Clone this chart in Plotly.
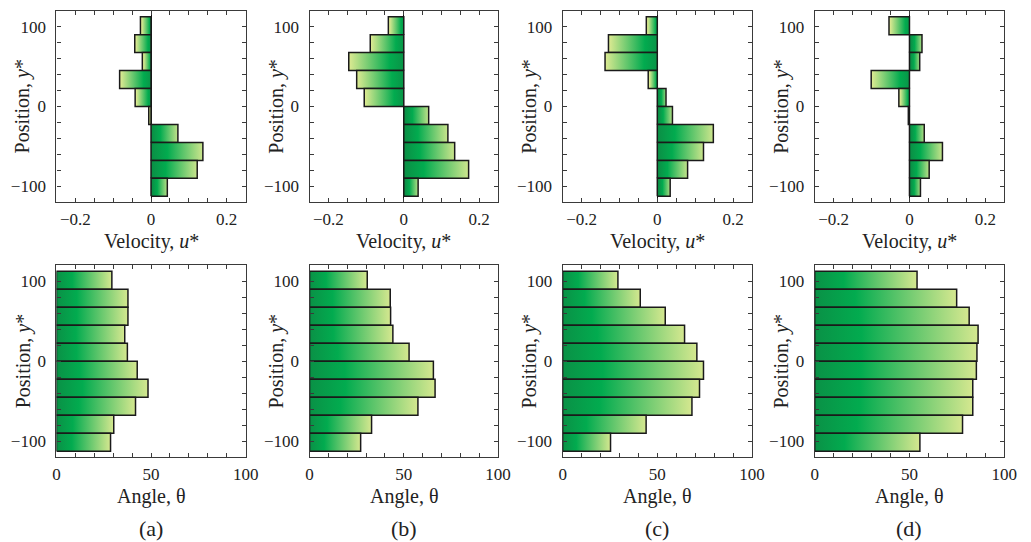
import plotly.graph_objects as go

# ---------------- data ----------------
positions = [101.25, 78.75, 56.25, 33.75, 11.25, -11.25, -33.75, -56.25, -78.75, -101.25]
bin_width = 22.5

velocity_a = [-0.028, -0.043, -0.023, -0.083, -0.042, -0.006, 0.071, 0.137, 0.122, 0.043]
velocity_b = [-0.041, -0.089, -0.146, -0.125, -0.105, 0.066, 0.117, 0.135, 0.172, 0.038]
velocity_c = [-0.029, -0.129, -0.138, -0.024, 0.023, 0.040, 0.148, 0.122, 0.080, 0.034]
velocity_d = [-0.054, 0.033, 0.027, -0.101, -0.028, -0.003, 0.039, 0.087, 0.052, 0.029]

angle_a = [29.3, 37.8, 37.8, 36.1, 37.5, 42.7, 48.4, 41.8, 30.3, 28.6]
angle_b = [30.6, 42.8, 43.0, 44.2, 52.8, 65.7, 66.6, 57.5, 32.9, 27.1]
angle_c = [29.2, 41.0, 54.2, 64.4, 70.9, 74.4, 72.3, 68.3, 44.1, 25.3]
angle_d = [54.0, 74.9, 81.5, 86.2, 85.6, 85.3, 83.4, 83.4, 78.0, 55.5]

panel_labels = ["(a)", "(b)", "(c)", "(d)"]

vel_tickvals = [-0.2, -0.15, -0.1, -0.05, 0, 0.05, 0.1, 0.15, 0.2]
vel_ticktext = ["\u22120.2", "", "", "", "0", "", "", "", "0.2"]
ang_tickvals = [0, 10, 20, 30, 40, 50, 60, 70, 80, 90, 100]
ang_ticktext = ["0", "", "", "", "", "50", "", "", "", "", "100"]
pos_tickvals = [-100, -80, -60, -40, -20, 0, 20, 40, 60, 80, 100]
pos_ticktext = ["\u2212100", "", "", "", "", "0", "", "", "", "", "100"]

# ---------------- layout geometry ----------------
W, H = 1031, 542
col_px = [(53.3, 245.7), (310.7, 502.3), (568.0, 760.5), (824.3, 1017.0)]
row_px = [(10.7, 202.3), (265.3, 457.3)]

FONT = "Liberation Serif"
TXT = "#222222"
FRAME = "#3a3a3a"
colorscale = [[0.0, "#0a9146"], [0.28, "#02ab4f"], [1.0, "#dae991"]]
colorscale_rev = [[1 - p, c] for p, c in reversed(colorscale)]

velocity = [velocity_a, velocity_b, velocity_c, velocity_d]
angle = [angle_a, angle_b, angle_c, angle_d]

fig = go.Figure()


def add_bars(values, axis_idx):
    xa = "x" if axis_idx == 1 else f"x{axis_idx}"
    ya = "y" if axis_idx == 1 else f"y{axis_idx}"
    for p, v in zip(positions, values):
        y0, y1 = p - bin_width / 2, p + bin_width / 2
        if v >= 0:
            grad = dict(type="horizontal", colorscale=colorscale, start=0, stop=v)
        else:
            grad = dict(type="horizontal", colorscale=colorscale_rev, start=v, stop=0)
        fig.add_trace(go.Scatter(
            x=[0, v, v, 0, 0], y=[y0, y0, y1, y1, y0],
            mode="lines", fill="toself", fillgradient=grad,
            line=dict(color="#1a1a1a", width=1.5),
            hoverinfo="skip", showlegend=False,
            xaxis=xa, yaxis=ya,
        ))


axes = {}
annotations = []
for c in range(4):
    for r in range(2):
        idx = r * 4 + c + 1
        x0, x1 = col_px[c]
        yt, yb = row_px[r]
        xdom = [x0 / W, x1 / W]
        ydom = [1 - yb / H, 1 - yt / H]
        vals = velocity[c] if r == 0 else angle[c]
        add_bars(vals, idx)
        common = dict(showline=True, mirror="allticks", linecolor=FRAME, linewidth=1.2,
                      ticks="inside", ticklen=4, tickwidth=1, tickcolor=FRAME,
                      showgrid=False, tickfont=dict(family=FONT, size=17, color=TXT),
                      tickmode="array", fixedrange=True)
        xname = "xaxis" if idx == 1 else f"xaxis{idx}"
        yname = "yaxis" if idx == 1 else f"yaxis{idx}"
        anchor_y = "y" if idx == 1 else f"y{idx}"
        anchor_x = "x" if idx == 1 else f"x{idx}"
        if r == 0:
            axes[xname] = dict(common, domain=xdom, anchor=anchor_y, range=[-0.25, 0.25],
                               tickvals=vel_tickvals, ticktext=vel_ticktext,
                               zeroline=True, zerolinecolor="#111111", zerolinewidth=1.2,
                               ticklabelstandoff=1)
        else:
            axes[xname] = dict(common, domain=xdom, anchor=anchor_y, range=[0, 100],
                               tickvals=ang_tickvals, ticktext=ang_ticktext,
                               zeroline=False, ticklabelstandoff=1)
        axes[yname] = dict(common, domain=ydom, anchor=anchor_x, range=[-120, 120],
                           tickvals=pos_tickvals, ticktext=pos_ticktext,
                           zeroline=False, ticklabelstandoff=6)
        # axis titles
        cx = (x0 + x1) / 2 / W
        xtitle = "Velocity, <i>u</i>*" if r == 0 else "Angle, \u03b8"
        annotations.append(dict(text=xtitle, x=cx, y=1 - (yb + 39) / H, xref="paper", yref="paper",
                                showarrow=False, xanchor="center", yanchor="middle",
                                font=dict(family=FONT, size=20, color=TXT)))
        annotations.append(dict(text="Position, <i>y</i>*", x=(x0 - 34) / W, y=1 - (yt + yb) / 2 / H,
                                xref="paper", yref="paper", showarrow=False, textangle=-90,
                                xanchor="center", yanchor="middle",
                                font=dict(family=FONT, size=20, color=TXT)))
    annotations.append(dict(text=panel_labels[c], x=(col_px[c][0] + col_px[c][1]) / 2 / W,
                            y=1 - 528 / H, xref="paper", yref="paper", showarrow=False,
                            xanchor="center", yanchor="middle",
                            font=dict(family=FONT, size=22, color=TXT)))

fig.update_layout(
    width=W, height=H, margin=dict(l=0, r=0, t=0, b=0),
    paper_bgcolor="white", plot_bgcolor="white",
    font=dict(family=FONT, color=TXT),
    annotations=annotations, **axes,
)

fig.write_html("out.html", config={"displayModeBar": False},
               post_script="document.body.style.margin='0px';document.body.style.overflow='hidden';")
